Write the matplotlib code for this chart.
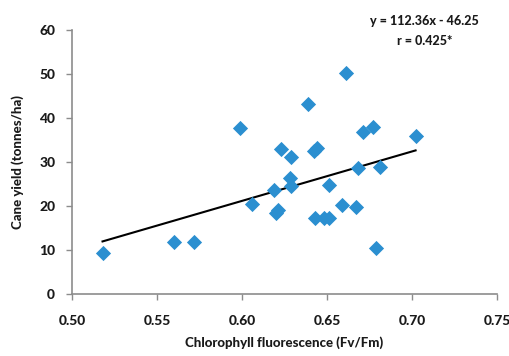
import matplotlib.pyplot as plt
import numpy as np

# Chlorophyll fluorescence (Fv/Fm) vs cane yield
fvfm = [0.518, 0.560, 0.572, 0.599, 0.606, 0.619, 0.620, 0.621, 0.623,
        0.628, 0.629, 0.629, 0.639, 0.642, 0.643, 0.644, 0.648, 0.651,
        0.651, 0.659, 0.661, 0.667, 0.668, 0.671, 0.677, 0.679, 0.681,
        0.702]
yield_t = [9.4, 11.9, 11.9, 37.7, 20.5, 23.7, 18.3, 19.1, 32.9,
           26.3, 24.6, 31.2, 43.1, 32.6, 17.2, 33.1, 17.2, 17.2,
           24.8, 20.3, 50.3, 19.8, 28.6, 36.9, 38.0, 10.5, 28.9,
           35.9]

slope = 112.36
intercept = -46.25

plt.rcParams['font.family'] = ['Lato', 'DejaVu Sans']

fig = plt.figure(figsize=(5.1, 3.56), dpi=100)
ax = fig.add_axes([0.141, 0.174, 0.834, 0.742])

ax.scatter(fvfm, yield_t, marker='D', s=60, color='#2b8fd0', zorder=3,
           linewidths=0)

# linear trendline over the range of the data
xs = np.array([min(fvfm), max(fvfm)])
ax.plot(xs, slope * xs + intercept, color='black', linewidth=1.5, zorder=2)

ax.set_xlim(0.50, 0.75)
ax.set_ylim(0, 60)
ax.set_xticks([0.50, 0.55, 0.60, 0.65, 0.70, 0.75])
ax.set_xticklabels(['0.50', '0.55', '0.60', '0.65', '0.70', '0.75'])
ax.set_yticks(range(0, 61, 10))

for s in ['top', 'right']:
    ax.spines[s].set_visible(False)
for s in ['left', 'bottom']:
    ax.spines[s].set_color('#8c8c8c')
    ax.spines[s].set_linewidth(1.2)
ax.tick_params(axis='both', color='#8c8c8c', length=4, width=1,
               labelsize=10, labelcolor='#1a1a1a')
ax.tick_params(axis='y', pad=8)
ax.tick_params(axis='x', pad=11)
for lab in ax.get_xticklabels() + ax.get_yticklabels():
    lab.set_fontweight('black')

ax.set_xlabel('Chlorophyll fluorescence (Fv/Fm)', fontsize=9.5,
              fontweight='black', labelpad=7, color='#1a1a1a')
ax.set_ylabel('Cane yield (tonnes/ha)', fontsize=9.5, fontweight='black',
              labelpad=11, color='#1a1a1a')

fig.text(0.832, 0.94, 'y = 112.36x - 46.25', ha='center', va='center',
         fontsize=9, fontweight='black', color='#1a1a1a')
fig.text(0.832, 0.885, 'r = 0.425*', ha='center', va='center',
         fontsize=9, fontweight='black', color='#1a1a1a')

fig.savefig('out.png', dpi=100)
